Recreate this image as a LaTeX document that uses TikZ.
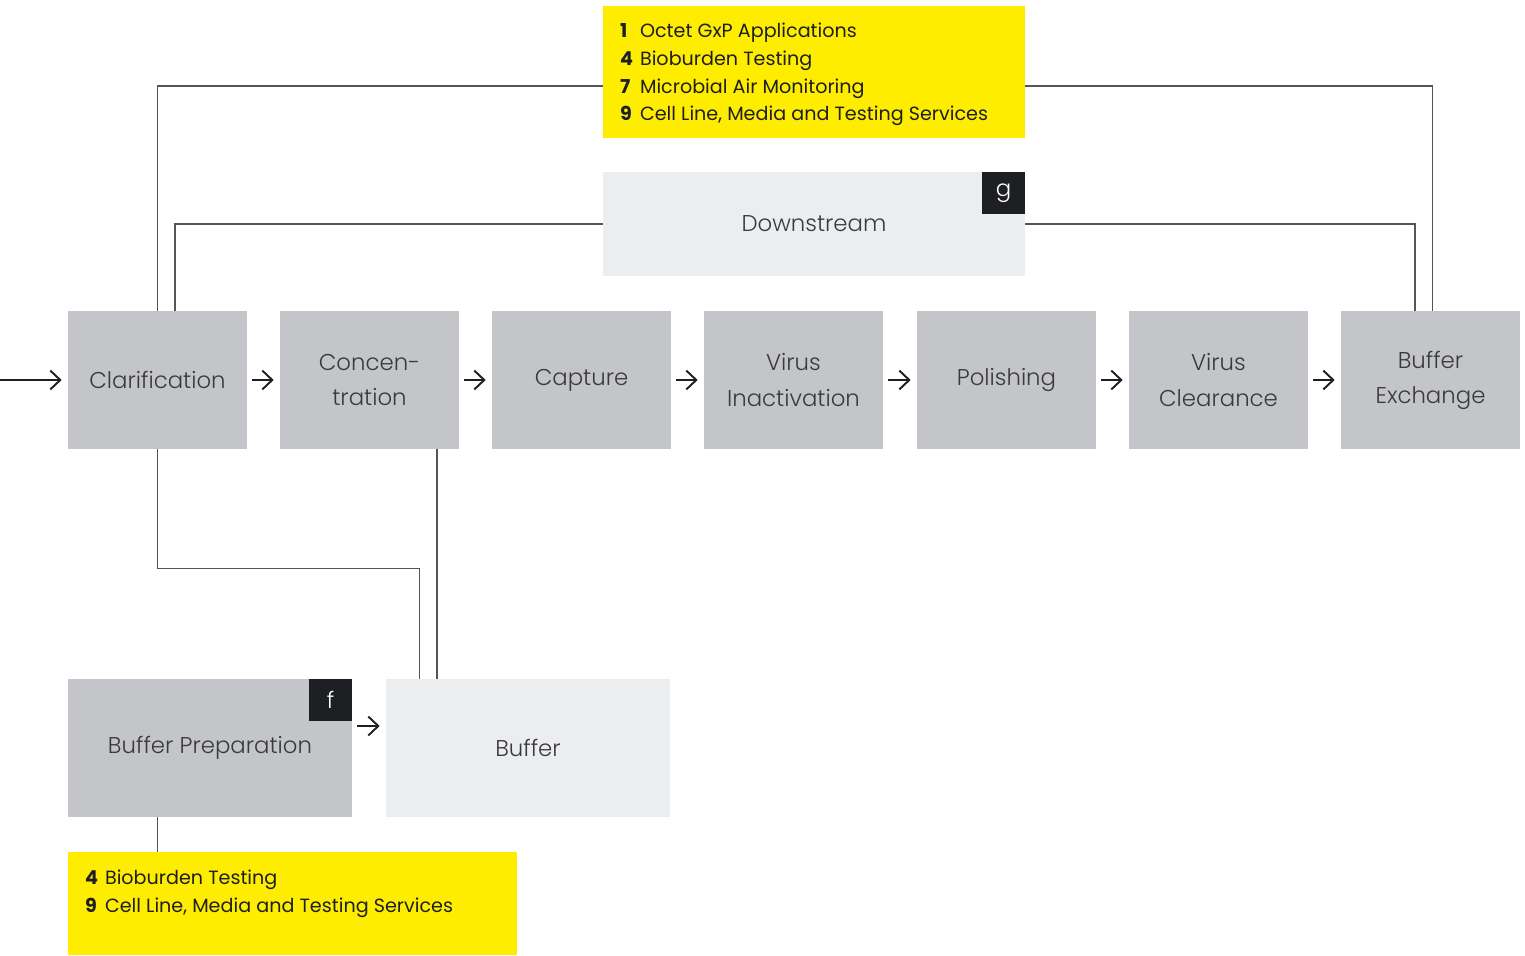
\documentclass[tikz,border=0pt]{standalone}
\usepackage{fontspec}
\setmainfont{Poppins}
\newfontfamily\lightfont{Poppins Light}
\usetikzlibrary{calc}
\usetikzlibrary{arrows.meta}
\definecolor{procgray}{HTML}{C4C5C9}
\definecolor{palegray}{HTML}{ECEDEF}
\definecolor{signal}{HTML}{FFED00}
\definecolor{badgeblack}{HTML}{1E1F22}
\definecolor{inkgray}{HTML}{3A3A3C}
\definecolor{linkgray}{HTML}{555555}
\tikzset{
    proc/.style={fill=procgray, draw=none, minimum width=3.58cm, minimum height=2.76cm, inner sep=0pt, align=center, text=inkgray, font=\lightfont\fontsize{13}{20}\selectfont},
    pale/.style={proc, fill=palegray},
    badge/.style={fill=badgeblack, text=white, minimum width=0.86cm, minimum height=0.84cm, inner sep=0pt, anchor=north east, font=\lightfont\fontsize{13}{16}\selectfont},
    tag/.style={fill=signal, inner sep=0pt},
    tagtext/.style={anchor=north west, inner sep=0pt, align=left, text=badgeblack, font=\fontsize{10.9}{15.8}\selectfont},
    arr/.style={-{Straight Barb[length=0.2cm, width=0.38cm]}, line width=1.1pt, color=badgeblack, shorten <=0.1cm, shorten >=0.12cm},
    link/.style={line width=0.6pt, color=linkgray},
}
\newcommand{\num}[1]{\makebox[0.4cm][l]{\textbf{#1}}}
\begin{document}
\begin{tikzpicture}[x=0.02cm, y=-0.02cm]
    \useasboundingbox (0,0) rectangle (1525,956);
    % process row
    \node[proc] (clar) at (157.5,380) {Clarification};
    \node[proc] (conc) at (369.5,380) {Concen-\\tration};
    \node[proc] (capt) at (581.5,380) {Capture};
    \node[proc] (vina) at (793.5,380) {Virus\\Inactivation};
    \node[proc] (poli) at (1006.5,380) {Polishing};
    \node[proc] (vcle) at (1218.5,380) {Virus\\Clearance};
    \node[proc] (bexc) at (1430.5,380) {Buffer\\Exchange};
    \coordinate (feed) at (0,380);
    \draw[arr, shorten <=0cm] (feed) -- (clar.west);
    \draw[arr] (clar.east) -- (conc.west);
    \draw[arr] (conc.east) -- (capt.west);
    \draw[arr] (capt.east) -- (vina.west);
    \draw[arr] (vina.east) -- (poli.west);
    \draw[arr] (poli.east) -- (vcle.west);
    \draw[arr] (vcle.east) -- (bexc.west);
    % top: services and downstream
    \node[tag, minimum width=8.44cm, minimum height=2.64cm] (svctop) at (814,72) {};
    \node[tagtext] (svctoptxt) at ($(svctop.north west)+(17,17)$) {\num{1}Octet GxP Applications\\\num{4}Bioburden Testing\\\num{7}Microbial Air Monitoring\\\num{9}Cell Line, Media and Testing Services};
    \node[pale, minimum width=8.44cm, minimum height=2.08cm] (down) at (814,224) {Downstream};
    \node[badge] (gtag) at (down.north east) {g};
    \draw[link] (clar.north) |- ($(svctop.west)+(0,14)$);
    \draw[link] ($(svctop.east)+(0,14)$) -| ($(bexc.north)+(2,0)$);
    \draw[link] ($(clar.north)+(17.5,0)$) |- (down.west);
    \draw[link] (down.east) -| ($(bexc.north)+(-15.5,0)$);
    % bottom: buffer
    \node[proc, minimum width=5.68cm] (bprep) at (210,748) {Buffer Preparation};
    \node[badge] (ftag) at (bprep.north east) {f};
    \node[pale, minimum width=5.68cm] (buf) at (528,748) {Buffer};
    \draw[arr] ($(bprep.east)+(0,-22)$) -- ($(buf.west)+(0,-22)$);
    \draw[link] (clar.south) -- ++(0,119) -| ($(buf.north west)+(34,0)$);
    \coordinate (cdrop) at ($(conc.south)+(67.5,0)$);
    \draw[link] (cdrop) -- (cdrop |- buf.north);
    \node[tag, minimum width=8.98cm, minimum height=2.06cm] (svcbot) at (292.5,903.5) {};
    \node[tagtext] (svcbottxt) at ($(svcbot.north west)+(17,18)$) {\num{4}Bioburden Testing\\\num{9}Cell Line, Media and Testing Services};
    \draw[link] (bprep.south -| clar.south) -- (svcbot.north -| clar.south);
\end{tikzpicture}
\end{document}
